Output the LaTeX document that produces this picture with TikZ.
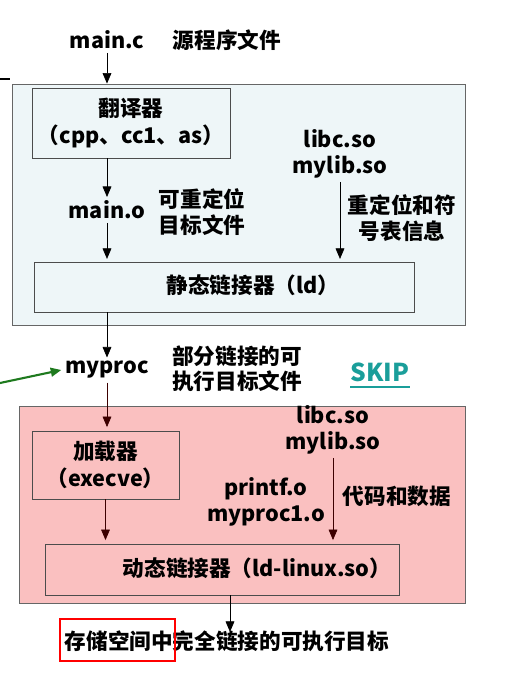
\documentclass[tikz,border=0pt]{standalone}
\usepackage{fontspec}
\setmainfont{Noto Sans CJK SC}
\usetikzlibrary{arrows.meta, positioning}
\definecolor{stagebg}{RGB}{238,246,248}
\definecolor{runbg}{RGB}{250,192,192}
\definecolor{skipcol}{RGB}{26,158,154}
\definecolor{linkcol}{RGB}{30,122,30}
\definecolor{darkred}{RGB}{60,0,0}

\begin{document}
\begin{tikzpicture}[
    x=0.02cm, y=-0.02cm,
    stage/.style={draw=gray!80!black, line width=0.5pt},
    box/.style={draw=black!70, line width=0.5pt, align=center,
                font=\fontsize{12.3}{15.5}\selectfont\bfseries},
    txt/.style={font=\fontsize{12.3}{14.5}\selectfont\bfseries, align=center,
                inner sep=2pt},
    >={Triangle[length=6pt, width=5pt]}
  ]
  \useasboundingbox (0,0) rectangle (524,693);

  % Stage boxes
  \node[stage, fill=stagebg, minimum width=9.06cm, minimum height=4.82cm]
    (static) at (238.5,204.5) {};
  \node[stage, fill=runbg, minimum width=8.92cm, minimum height=3.94cm]
    (dynamic) at (242,504.5) {};

  % Static linking
  \node[txt] (mainc) at (107,40) {main.c};
  \node[txt] (srcnote) at (227,40) {源程序文件};
  \node[box, minimum width=3.76cm, minimum height=1.4cm]
    (trans) at (131,123) {翻译器\\（cpp、cc1、as）};
  \node[txt] (maino) at (107,210) {main.o};
  \node[txt] (relnote) at (202,212) {可重定位\\目标文件};
  \node[txt] (libs) at (340,154) {libc.so\\mylib.so};
  \node[txt] (symnote) at (402,218) {重定位和符\\号表信息};
  \node[box, minimum width=7.6cm, minimum height=1.0cm] (ld) at (224,287) {};
  \node[txt] (ldlbl) at (253,285) {静态链接器（ld）};

  % Partially linked
  \node[txt] (myproc) at (107,370) {myproc};
  \node[txt] (partnote) at (237,369) {部分链接的可\\执行目标文件};
  \node[font=\fontsize{14}{16}\selectfont\bfseries, text=skipcol,
        inner sep=0pt] (skip) at (380,372) {SKIP};
  \draw[skipcol, line width=0.8pt]
    ([yshift=-3pt]skip.south west) -- ([yshift=-3pt]skip.south east);

  % Dynamic linking
  \node[box, minimum width=2.94cm, minimum height=1.36cm]
    (loader) at (105.5,465) {加载器\\（execve）};
  \node[txt] (libs2) at (333,430) {libc.so\\mylib.so};
  \node[txt] (objs) at (266,502) {printf.o\\myproc1.o};
  \node[txt] (codenote) at (397,496) {代码和数据};
  \node[box, minimum width=7.08cm, minimum height=1.02cm] (dyn) at (222,569.5) {};
  \node[txt] (dynlbl) at (257,568) {动态链接器（ld-linux.so）};
  \node[txt] (final) at (227,641) {存储空间中完全链接的可执行目标};
  \node[draw=red, line width=1.5pt, minimum width=2.3cm, minimum height=0.84cm]
    (mark) at (117.5,640) {};

  % Connectors
  \draw[->] (mainc) -- (mainc |- static.north);
  \draw[->] (trans.south -| maino) -- (maino);
  \draw[->] (maino) -- ([yshift=1.5pt]maino |- ld.north);
  \draw[->] (libs) -- ([yshift=1.5pt]libs |- ld.north);
  \draw[->] (ld.south -| myproc) -- (myproc);
  \draw[->, darkred] (myproc) -- ([yshift=2pt]myproc |- loader.north);
  \draw[->, darkred] (loader) -- ([yshift=2pt]loader |- dyn.north);
  \draw[->, darkred] (libs2) -- ([yshift=2pt]libs2 |- dyn.north);
  \draw[->] (dyn.south -| 230,0) -- ([yshift=-3pt]final.north -| 230,0);

  % Stray marks
  \coordinate (edge) at (0,383);
  \draw[->, linkcol, line width=1.2pt] (edge) -- (myproc.west);
  \coordinate (tickl) at (0,79);
  \coordinate (tickr) at (10,79);
  \draw[line width=0.6pt] (tickl) -- (tickr);
\end{tikzpicture}
\end{document}
